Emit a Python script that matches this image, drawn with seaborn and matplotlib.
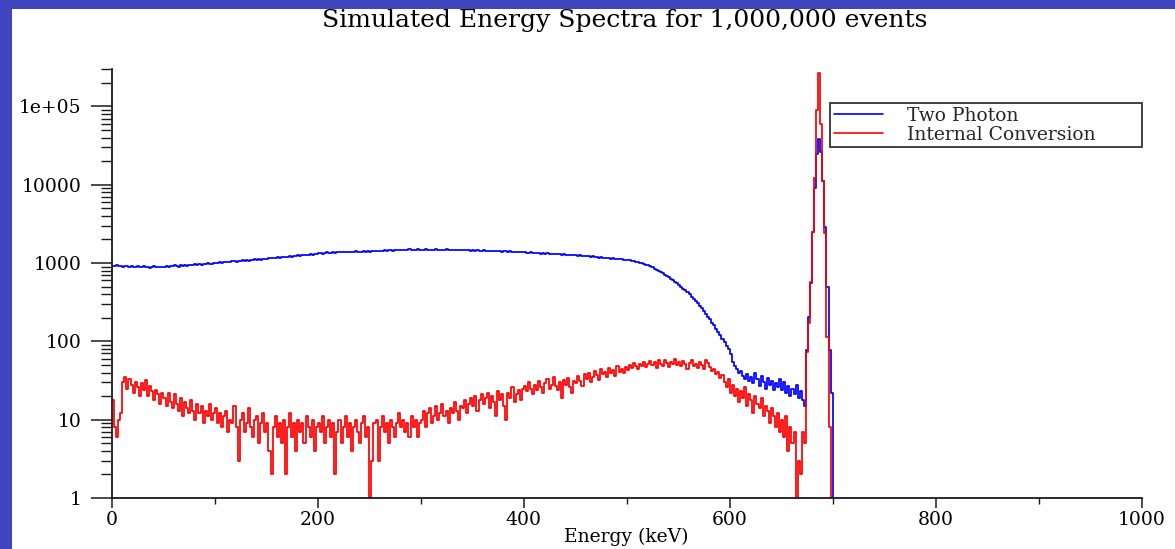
import numpy as np
import pandas as pd
import matplotlib
matplotlib.use("Agg")
import matplotlib.pyplot as plt
from matplotlib.patches import Rectangle
from matplotlib.lines import Line2D
from matplotlib.ticker import (FixedLocator, FixedFormatter, MultipleLocator,
                               LogLocator, NullFormatter)
import seaborn as sns

# Histogram bin width in keV; counts below are per 2 keV bin starting at 0 keV
BIN_WIDTH = 2

two_photon = [
    925, 912, 930, 905, 918, 897, 921, 909, 893, 915, 902, 889, 911, 896, 880, 904, 887, 899, 871, 893, 906, 884, 898, 879, 902,
    895, 912, 889, 921, 905, 930, 914, 899, 936, 922, 947, 918, 941, 956, 933, 962, 948, 971, 955, 980, 962, 991, 968, 985, 1002,
    995, 1012, 1021, 1003, 1034, 1018, 1045, 1029, 1052, 1067, 1041, 1075, 1058, 1083, 1069, 1092, 1076, 1101, 1088, 1115, 1097, 1124, 1109, 1131, 1142,
    1138, 1160, 1149, 1175, 1162, 1189, 1171, 1198, 1184, 1210, 1195, 1223, 1206, 1241, 1228, 1252, 1236, 1268, 1249, 1281, 1263, 1294, 1277, 1305, 1321,
    1335, 1362, 1318, 1349, 1371, 1340, 1358, 1384, 1352, 1377, 1363, 1391, 1368, 1382, 1401, 1375, 1393, 1369, 1410, 1388, 1397, 1378, 1415, 1392, 1406,
    1398, 1423, 1409, 1431, 1417, 1440, 1425, 1452, 1433, 1446, 1461, 1438, 1457, 1472, 1449, 1466, 1481, 1458, 1475, 1490, 1463, 1484, 1471, 1495, 1478,
    1486, 1462, 1491, 1474, 1458, 1483, 1469, 1497, 1473, 1455, 1480, 1466, 1489, 1460, 1477, 1451, 1472, 1485, 1459, 1468, 1447, 1475, 1456, 1463, 1442,
    1458, 1436, 1461, 1445, 1427, 1452, 1431, 1440, 1418, 1437, 1422, 1409, 1431, 1415, 1398, 1420, 1404, 1391, 1412, 1396, 1383, 1401, 1378, 1389, 1371,
    1380, 1362, 1349, 1368, 1341, 1355, 1332, 1346, 1321, 1338, 1315, 1327, 1302, 1319, 1296, 1308, 1285, 1299, 1276, 1290, 1268, 1281, 1259, 1272, 1250,
    1262, 1241, 1253, 1229, 1238, 1215, 1226, 1201, 1212, 1190, 1198, 1176, 1187, 1162, 1171, 1150, 1161, 1139, 1146, 1128, 1135, 1112, 1121, 1098, 1105,
    1095, 1082, 1070, 1061, 1043, 1030, 1012, 995, 978, 952, 931, 905, 878, 850, 822, 795, 768, 740, 711, 684, 655, 628, 601, 574, 548,
    522, 497, 470, 448, 421, 399, 372, 351, 329, 305, 286, 264, 245, 226, 207, 191, 174, 160, 145, 131, 120, 108, 97, 88, 80,
    69, 55, 48, 44, 39, 42, 36, 33, 38, 31, 35, 29, 40, 33, 27, 36, 30, 25, 34, 28, 31, 24, 29, 26, 33,
    24, 30, 22, 27, 20, 25, 21, 28, 19, 23, 18, 15, 78, 205, 560, 2500, 9000, 25000, 38000, 26000, 11000, 2900, 500, 78, 22,
]

internal_conversion = [
    18, 8, 6, 10, 12, 30, 35, 25, 33, 28, 22, 30, 26, 20, 29, 24, 32, 20, 27, 23, 18, 24, 21, 16, 22,
    19, 15, 22, 17, 14, 21, 16, 13, 19, 11, 17, 14, 12, 18, 13, 10, 16, 12, 15, 9, 13, 11, 16, 10, 12,
    14, 9, 12, 8, 11, 13, 7, 10, 9, 15, 8, 3, 10, 12, 7, 9, 14, 8, 6, 10, 11, 5, 9, 12, 7,
    9, 4, 2, 8, 11, 6, 9, 5, 10, 2, 8, 12, 6, 9, 4, 10, 7, 9, 5, 11, 8, 6, 10, 4, 8,
    9, 7, 11, 5, 8, 10, 6, 9, 2, 7, 10, 5, 8, 11, 6, 9, 4, 8, 10, 7, 5, 9, 11, 6, 8,
    1, 3, 9, 10, 3, 8, 11, 7, 9, 5, 10, 8, 6, 9, 12, 8, 10, 7, 9, 6, 11, 8, 10, 6, 9,
    10, 13, 8, 12, 14, 9, 11, 15, 10, 12, 16, 11, 13, 9, 14, 12, 17, 13, 10, 15, 14, 18, 12, 16, 19,
    15, 20, 13, 18, 21, 16, 19, 22, 14, 20, 17, 11, 23, 18, 21, 15, 10, 22, 19, 26, 17, 21, 24, 18, 25,
    27, 23, 30, 25, 21, 28, 24, 31, 26, 22, 29, 33, 25, 28, 35, 27, 24, 30, 19, 32, 28, 34, 26, 22, 31,
    29, 36, 31, 27, 38, 33, 40, 30, 35, 42, 37, 32, 44, 38, 41, 35, 46, 39, 43, 36, 48, 41, 45, 39, 47,
    43, 50, 46, 53, 48, 44, 52, 49, 55, 47, 51, 56, 50, 54, 46, 57, 52, 49, 58, 53, 47, 55, 51, 59, 50,
    54, 48, 56, 51, 45, 53, 57, 49, 52, 46, 55, 50, 44, 58, 53, 47, 42, 45, 38, 41, 34, 37, 30, 26, 33,
    22, 28, 20, 25, 17, 23, 19, 26, 15, 21, 18, 12, 20, 16, 14, 19, 11, 15, 13, 9, 14, 11, 8, 12, 7,
    10, 6, 11, 4, 8, 5, 7, 0, 3, 2, 7, 5, 74, 170, 580, 2500, 12000, 90000, 270000, 60000, 11000, 2400, 115, 8, 0,
]

series_names = ["Two Photon", "Internal Conversion"]
series_colors = ["#0000ff", "#ff0000"]

x_tick_values = [0, 200, 400, 600, 800, 1000]
y_tick_values = [1, 10, 100, 1000, 10000, 100000]
y_tick_labels = ["1", "10", "100", "1000", "10000", "1e+05"]

title_text = "Simulated Energy Spectra for 1,000,000 events"
x_label_text = "Energy (keV)"

sns.set_theme(style="ticks")
plt.rcParams["font.family"] = ["DejaVu Serif"]

# Long-form table: each series gets its bin edges plus a closing edge at zero
edges = np.arange(len(two_photon) + 1) * BIN_WIDTH
frames = []
for name, counts in zip(series_names, [two_photon, internal_conversion]):
    frames.append(pd.DataFrame({"energy": edges,
                                "counts": list(counts) + [0],
                                "series": name}))
spectra = pd.concat(frames, ignore_index=True)

W, H = 1175, 549
fig = plt.figure(figsize=(W / 100, H / 100), dpi=100)
fig.patch.set_facecolor("#4144bf")
fig.add_artist(Rectangle((12 / W, 0), 1, 1 - 9 / H, transform=fig.transFigure,
                         facecolor="white", edgecolor="none", zorder=-1))

ax = fig.add_axes([112 / W, 51 / H, 1029.5 / W, 429 / H])
ax.set_facecolor("white")

sns.lineplot(data=spectra, x="energy", y="counts", hue="series",
             hue_order=series_names, palette=series_colors,
             drawstyle="steps-post", estimator=None, sort=False,
             linewidth=1.25, legend=False, ax=ax)

ax.set_yscale("log")
ax.set_xlim(0, 1000)
ax.set_ylim(1, 3e5)

ax.spines[["top", "right"]].set_visible(False)
for side in ["left", "bottom"]:
    ax.spines[side].set_color("#1a1a1a")
    ax.spines[side].set_linewidth(1.3)

ax.xaxis.set_major_locator(FixedLocator(x_tick_values))
ax.xaxis.set_minor_locator(MultipleLocator(100))
ax.yaxis.set_major_locator(FixedLocator(y_tick_values))
ax.yaxis.set_major_formatter(FixedFormatter(y_tick_labels))
ax.yaxis.set_minor_locator(LogLocator(base=10, subs=np.arange(2, 10)))
ax.yaxis.set_minor_formatter(NullFormatter())

ax.tick_params(axis="y", which="major", direction="out", length=15, width=1.1,
               pad=7, labelsize=13.5, color="#1a1a1a", labelcolor="black")
ax.tick_params(axis="y", which="minor", direction="out", length=8, width=1.0,
               color="#1a1a1a")
ax.tick_params(axis="x", which="major", direction="out", length=7.5, width=1.1,
               pad=2, labelsize=13.5, color="#1a1a1a", labelcolor="black")
ax.tick_params(axis="x", which="minor", direction="out", length=4, width=1.0,
               color="#1a1a1a")

ax.set_xlabel(x_label_text, fontsize=13.5, color="black", labelpad=-1)
ax.set_ylabel("")

handles = [Line2D([], [], color=c, linewidth=1.2) for c in series_colors]
leg = ax.legend(handles, series_names, loc="upper left",
                bbox_to_anchor=(830 / W, 1 - 149 / H, 312 / W, 46 / H),
                bbox_transform=fig.transFigure, mode="expand",
                frameon=True, fancybox=False, shadow=False,
                borderpad=0.2, labelspacing=0.05, handlelength=2.6,
                handletextpad=1.3, fontsize=13.5, borderaxespad=0)
leg.get_frame().set_edgecolor("black")
leg.get_frame().set_linewidth(1.3)
leg.get_frame().set_facecolor("white")

fig.text(625 / W, 1 - 20 / H, title_text, ha="center", va="center",
         fontsize=18, color="black")

fig.savefig("out.png", dpi=100, facecolor=fig.get_facecolor())
